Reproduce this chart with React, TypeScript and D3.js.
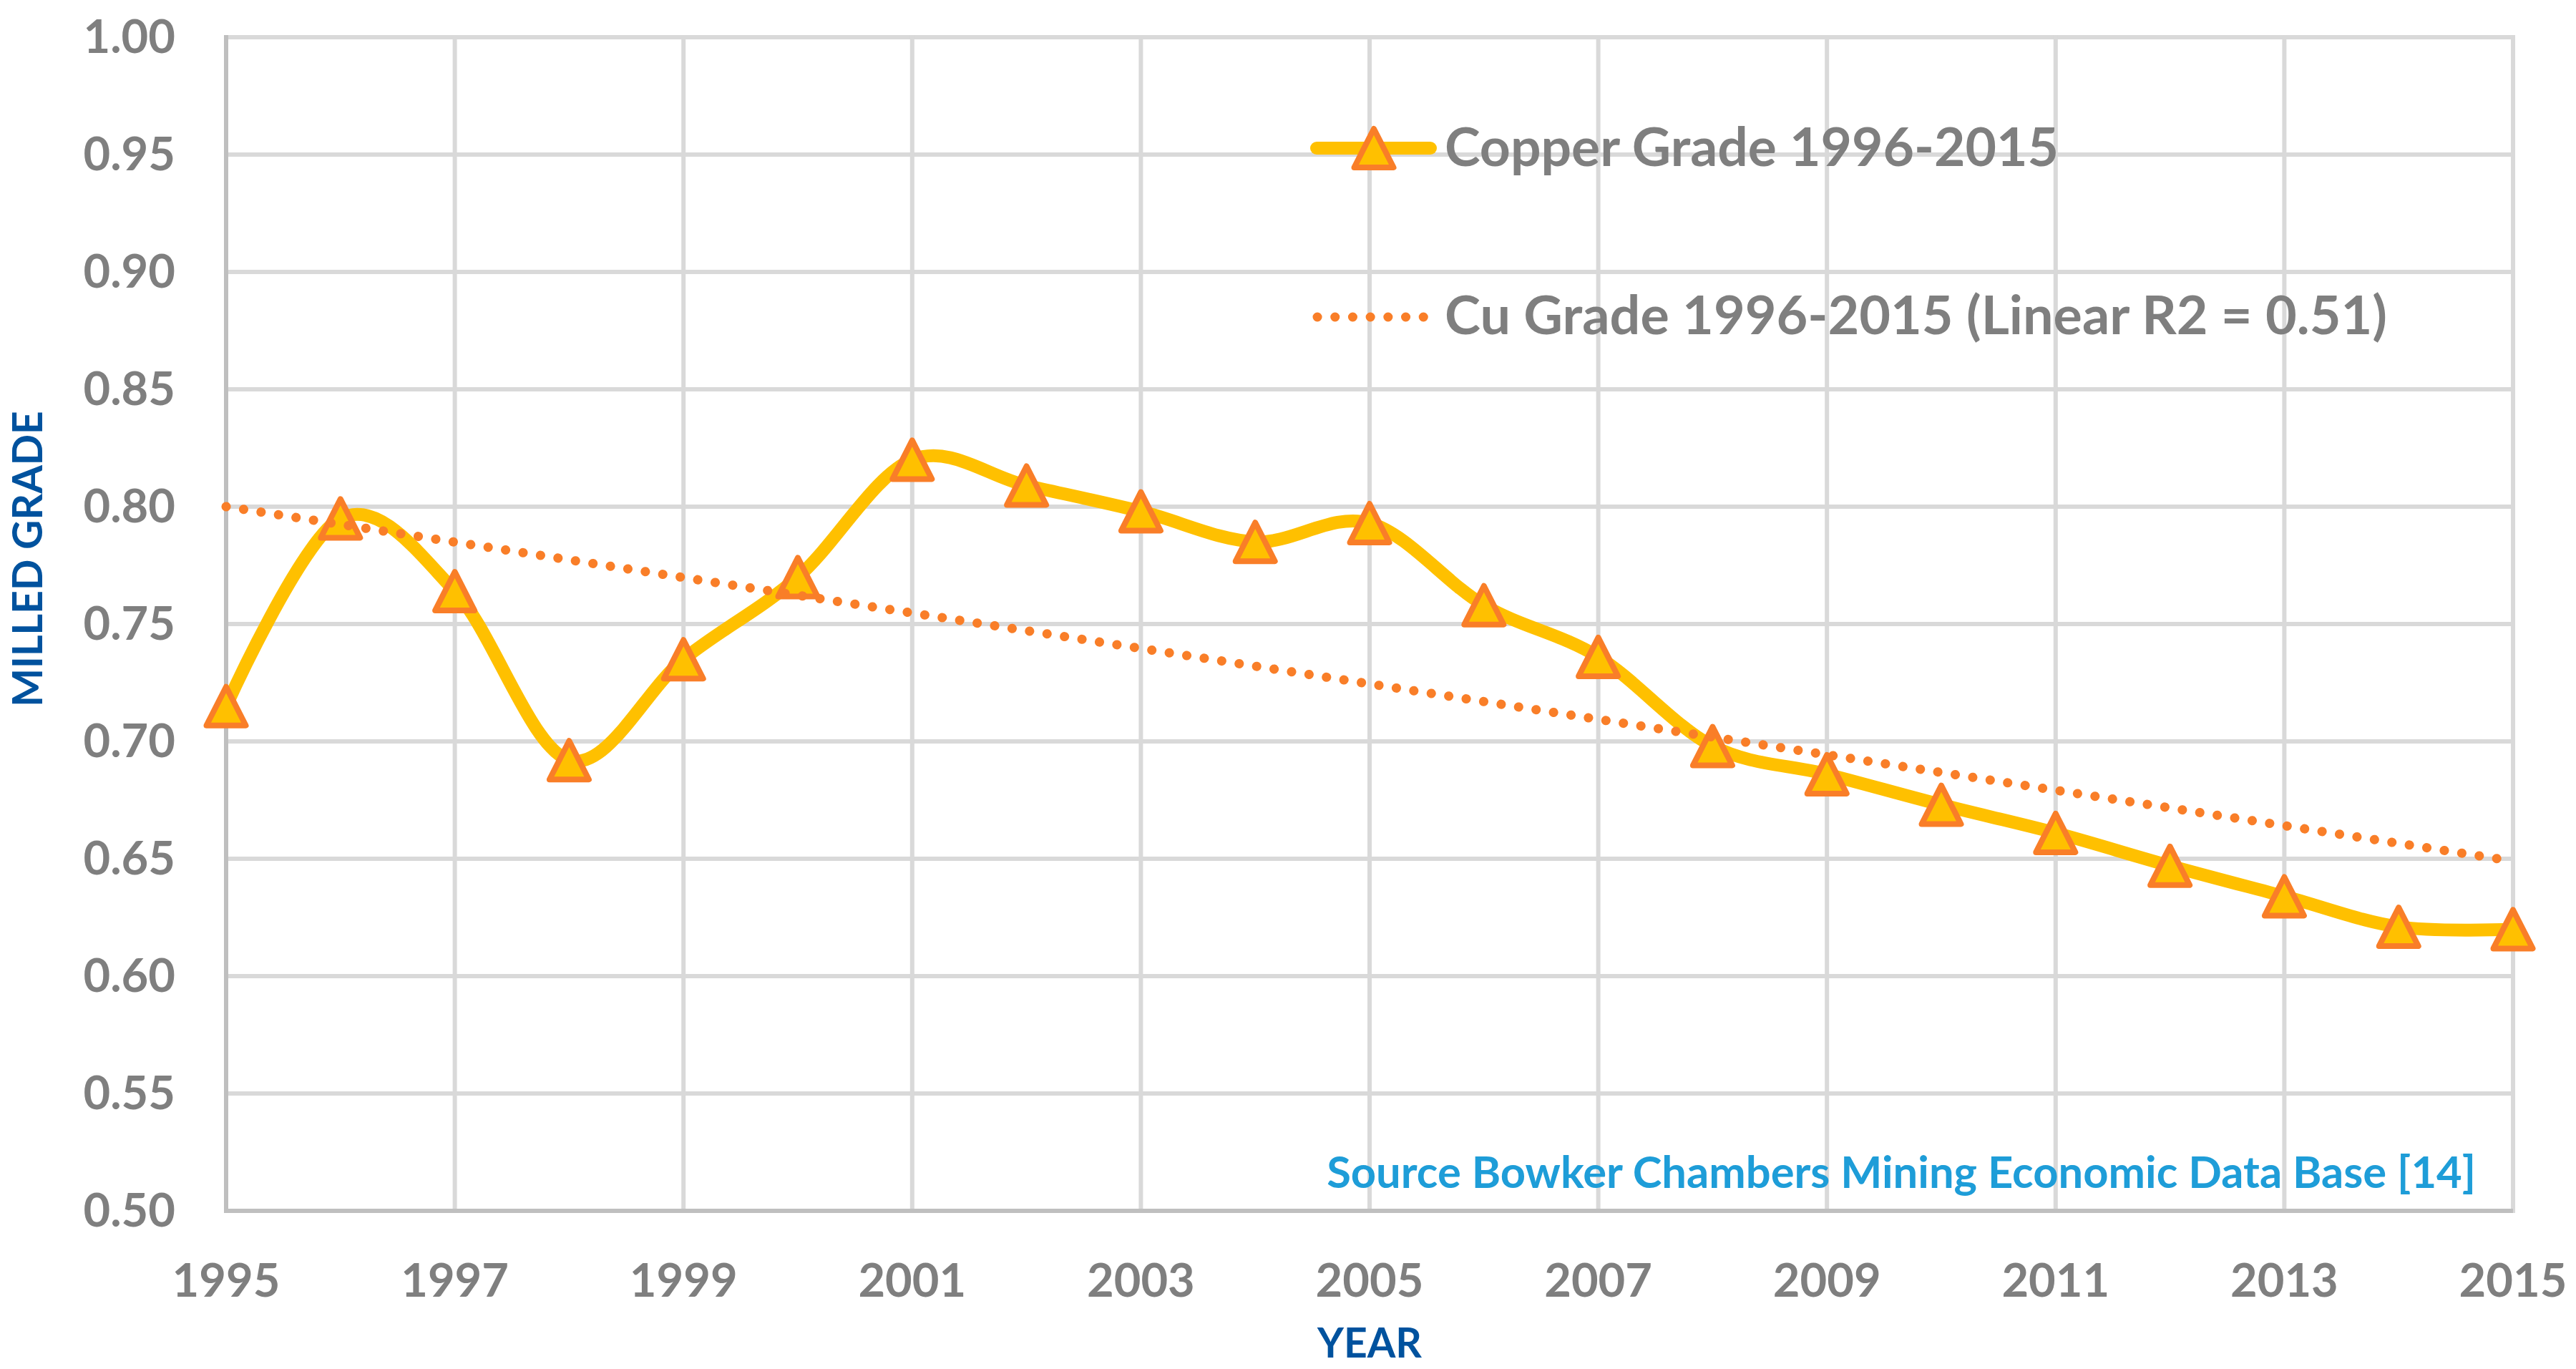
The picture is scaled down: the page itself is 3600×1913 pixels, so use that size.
import React from "react";
import * as d3 from "d3";

const years = [1995, 1996, 1997, 1998, 1999, 2000, 2001, 2002, 2003, 2004, 2005, 2006, 2007, 2008, 2009, 2010, 2011, 2012, 2013, 2014, 2015];
const copperGrade = [0.715, 0.795, 0.764, 0.692, 0.735, 0.770, 0.820, 0.809, 0.798, 0.785, 0.793, 0.758, 0.736, 0.698, 0.686, 0.673, 0.661, 0.647, 0.634, 0.621, 0.620];
const trendYears = [1995, 2015];
const trendValues = [0.800, 0.649];
const yTicks = [0.5, 0.55, 0.6, 0.65, 0.7, 0.75, 0.8, 0.85, 0.9, 0.95, 1.0];
const xTicks = [1995, 1997, 1999, 2001, 2003, 2005, 2007, 2009, 2011, 2013, 2015];
const seriesName = "Copper Grade 1996-2015";
const trendName = "Cu Grade 1996-2015 (Linear R2 = 0.51)";
const xTitle = "YEAR";
const yTitle = "MILLED GRADE";
const sourceNote = "Source Bowker Chambers Mining Economic Data Base [14]";

const W = 3600;
const H = 1913;
const left = 316;
const right = 3512;
const top = 52;
const bottom = 1692;

const FONT = "Lato, 'Open Sans', sans-serif";
const GRAY = "#7f7f7f";
const GOLD = "#FFC000";
const ORANGE = "#F97E28";
const BLUE_T = "#00529E";
const SRC = "#1E9DD8";

function tri(cx: number, cy: number) {
  const w = 55, h = 54;
  return `M${cx},${cy - h / 2}L${cx + w / 2},${cy + h / 2}L${cx - w / 2},${cy + h / 2}Z`;
}

export default function App() {
  const x = d3.scaleLinear().domain([1995, 2015]).range([left, right]);
  const y = d3.scaleLinear().domain([0.5, 1.0]).range([bottom, top]);

  const pts: [number, number][] = years.map((yr, i) => [x(yr), y(copperGrade[i])]);
  const line = d3.line<[number, number]>().curve(d3.curveCardinal.tension(0));
  const seriesPath = line(pts) || "";
  const trendPath = d3.line<[number, number]>()(trendYears.map((yr, i) => [x(yr), y(trendValues[i])])) || "";

  const dotDash = "0.1 24.6";

  return (
    <svg width={W} height={H} style={{ position: "absolute", left: 0, top: 0, background: "#fff" }}>
      <rect x={0} y={0} width={W} height={H} fill="#fff" />
      {yTicks.map((t) => (
        <line key={"h" + t} x1={left} x2={right + 3} y1={y(t)} y2={y(t)} stroke="#d9d9d9" strokeWidth={6} />
      ))}
      {xTicks.map((t) => (
        <line key={"v" + t} x1={x(t)} x2={x(t)} y1={top - 3} y2={bottom} stroke="#d9d9d9" strokeWidth={6} />
      ))}
      <line x1={left} x2={left} y1={top - 3} y2={bottom + 3} stroke="#bfbfbf" strokeWidth={6} />
      <line x1={left - 3} x2={right} y1={bottom} y2={bottom} stroke="#bfbfbf" strokeWidth={6} />

      {yTicks.map((t) => (
        <text key={"yl" + t} x={245} y={y(t) + 22} textAnchor="end" fontFamily={FONT} fontWeight={700} fontSize={65} fill={GRAY}>
          {t.toFixed(2)}
        </text>
      ))}
      {xTicks.map((t) => (
        <text key={"xl" + t} x={x(t)} y={1812} textAnchor="middle" fontFamily={FONT} fontWeight={700} fontSize={65} fill={GRAY}>
          {t}
        </text>
      ))}

      <text x={x(2005)} y={1897} textAnchor="middle" fontFamily={FONT} fontWeight={700} fontSize={57} fill={BLUE_T}>
        {xTitle}
      </text>
      <text transform={`translate(59,781) rotate(-90)`} textAnchor="middle" fontFamily={FONT} fontWeight={700} fontSize={57} fill={BLUE_T}>
        {yTitle}
      </text>

      <path d={seriesPath} fill="none" stroke={GOLD} strokeWidth={18} strokeLinejoin="round" strokeLinecap="round" />
      {pts.map(([px, py], i) => (
        <path key={"m" + i} d={tri(px, py)} fill={GOLD} stroke={ORANGE} strokeWidth={8} strokeLinejoin="round" />
      ))}

      <path d={trendPath} fill="none" stroke={ORANGE} strokeWidth={13} strokeLinecap="round" strokeDasharray={dotDash} />

      <line x1={1840} x2={1999} y1={207} y2={207} stroke={GOLD} strokeWidth={18} strokeLinecap="round" />
      <path d={tri(1920, 207)} fill={GOLD} stroke={ORANGE} strokeWidth={8} strokeLinejoin="round" />
      <text x={2019} y={232} fontFamily={FONT} fontWeight={700} fontSize={75} fill={GRAY}>
        {seriesName}
      </text>
      <line x1={1841} x2={1990} y1={443} y2={443} stroke={ORANGE} strokeWidth={13} strokeLinecap="round" strokeDasharray={dotDash} />
      <text x={2019} y={467} fontFamily={FONT} fontWeight={700} fontSize={75.5} fill={GRAY}>
        {trendName}
      </text>

      <text x={3460} y={1660} textAnchor="end" fontFamily={FONT} fontWeight={700} fontSize={61.5} fill={SRC}>
        {sourceNote}
      </text>
    </svg>
  );
}
